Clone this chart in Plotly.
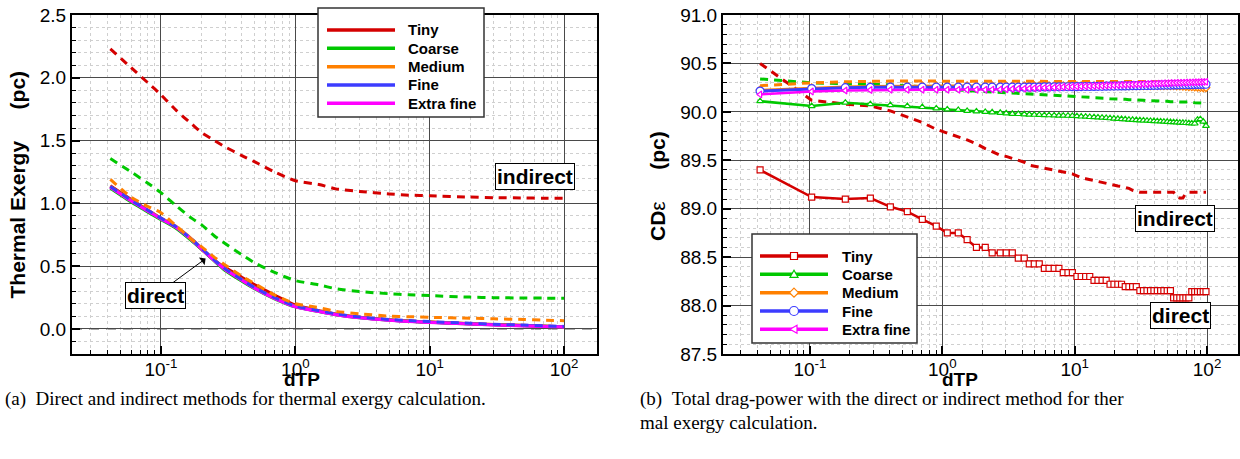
import math
import plotly.graph_objects as go

# ---------------------------------------------------------------- data
# (a) thermal exergy vs dTP
dtp_a = [0.042, 0.06, 0.08, 0.1, 0.13, 0.17, 0.2, 0.25, 0.3, 0.4, 0.5, 0.7,
         1.0, 1.5, 2, 3, 5, 7, 10, 20, 30, 50, 70, 100]

a_tiny_direct = [1.14, 1.03, 0.945, 0.88, 0.81, 0.705, 0.635, 0.545, 0.49, 0.41, 0.35, 0.27,
                 0.19, 0.145, 0.118, 0.092, 0.072, 0.062, 0.054, 0.041, 0.034, 0.027, 0.022, 0.017]
a_coarse_direct = [1.12, 1.01, 0.93, 0.87, 0.80, 0.70, 0.635, 0.54, 0.465, 0.38, 0.318, 0.24,
                   0.175, 0.138, 0.113, 0.088, 0.069, 0.06, 0.052, 0.039, 0.032, 0.025, 0.021, 0.016]
a_medium_direct = [1.135, 1.025, 0.945, 0.883, 0.815, 0.715, 0.645, 0.55, 0.48, 0.395, 0.33, 0.25,
                   0.182, 0.143, 0.117, 0.092, 0.072, 0.063, 0.055, 0.042, 0.035, 0.028, 0.023, 0.018]
a_fine_direct = [1.13, 1.02, 0.94, 0.878, 0.81, 0.71, 0.64, 0.545, 0.475, 0.39, 0.325, 0.245,
                 0.178, 0.14, 0.115, 0.09, 0.07, 0.061, 0.053, 0.04, 0.033, 0.026, 0.022, 0.017]
a_xfine_direct = [1.128, 1.018, 0.938, 0.876, 0.808, 0.708, 0.638, 0.543, 0.473, 0.388, 0.323, 0.243,
                  0.176, 0.138, 0.113, 0.088, 0.068, 0.059, 0.051, 0.038, 0.031, 0.024, 0.02, 0.015]

a_tiny_indirect = [2.23, 2.08, 1.96, 1.865, 1.74, 1.63, 1.565, 1.50, 1.45, 1.38, 1.33, 1.25,
                   1.18, 1.15, 1.115, 1.095, 1.075, 1.065, 1.06, 1.05, 1.045, 1.043, 1.04, 1.04]
a_coarse_indirect = [1.357, 1.25, 1.16, 1.085, 0.98, 0.88, 0.83, 0.74, 0.68, 0.59, 0.525, 0.45,
                     0.385, 0.35, 0.32, 0.297, 0.28, 0.272, 0.265, 0.253, 0.249, 0.246, 0.245, 0.244]
a_medium_indirect = [1.19, 1.05, 0.975, 0.925, 0.82, 0.71, 0.655, 0.57, 0.51, 0.42, 0.36, 0.27,
                     0.2, 0.17, 0.14, 0.12, 0.102, 0.097, 0.092, 0.085, 0.08, 0.075, 0.07, 0.065]
a_fine_indirect = [1.135, 1.025, 0.945, 0.882, 0.812, 0.712, 0.642, 0.548, 0.478, 0.393, 0.328, 0.248,
                   0.182, 0.145, 0.12, 0.095, 0.075, 0.066, 0.058, 0.045, 0.037, 0.03, 0.025, 0.02]
a_xfine_indirect = [1.13, 1.02, 0.94, 0.878, 0.81, 0.71, 0.64, 0.545, 0.475, 0.39, 0.325, 0.245,
                    0.178, 0.14, 0.115, 0.09, 0.07, 0.061, 0.053, 0.04, 0.033, 0.026, 0.022, 0.017]

# (b) total drag-power CD_eps vs dTP
dtp_b = [0.042, 0.103, 0.185, 0.286, 0.405, 0.544, 0.706, 0.90, 1.09, 1.32, 1.54, 1.81,
         2.11, 2.38, 2.74, 3.04, 3.38, 3.75, 4.16, 4.54, 4.95, 5.4, 5.9, 6.4, 7.0, 7.6,
         8.2, 8.9, 9.6, 10.4, 11.2, 12.1, 13.0, 14.0, 15.0, 16.1, 17.3, 18.5, 19.8, 21.2,
         22.6, 24.1, 25.7, 27.4, 29.2, 31.1, 33.1, 35.2, 37.4, 39.7, 42.1, 44.6, 47.2, 50.0,
         52.9, 55.9, 59.0, 62.3, 65.7, 69.2, 72.9, 76.7, 80.7, 84.8, 89.1, 93.6, 98.2]

b_tiny_direct = [89.40, 89.12, 89.10, 89.11, 89.02, 88.97, 88.89, 88.82,
                 88.75, 88.75, 88.68, 88.60, 88.60,
                 88.545, 88.545, 88.545, 88.545, 88.49, 88.49,
                 88.43, 88.43, 88.43, 88.385, 88.385, 88.385, 88.385,
                 88.34, 88.34, 88.34, 88.30, 88.30, 88.30, 88.30,
                 88.26, 88.26, 88.26, 88.26, 88.22, 88.22, 88.22, 88.22,
                 88.195, 88.195, 88.195, 88.195,
                 88.155, 88.155, 88.155, 88.155, 88.155, 88.155, 88.155, 88.155, 88.155, 88.155,
                 88.08, 88.08, 88.08, 88.08, 88.08, 88.08,
                 88.145, 88.145, 88.145, 88.145, 88.145, 88.145]
b_coarse_direct = [90.11, 90.06, 90.095, 90.08, 90.07, 90.06, 90.05, 90.035, 90.025, 90.02,
                   90.01, 90.005, 90.00, 89.995, 89.99, 89.985, 89.98, 89.978, 89.975, 89.972,
                   89.97, 89.968, 89.966, 89.965, 89.963, 89.962, 89.961, 89.96, 89.958, 89.955,
                   89.952, 89.95, 89.947, 89.945, 89.942, 89.94, 89.937, 89.934, 89.931, 89.928,
                   89.926, 89.923, 89.92, 89.918, 89.915, 89.913, 89.911, 89.909, 89.907, 89.905,
                   89.903, 89.901, 89.899, 89.897, 89.895, 89.893, 89.891, 89.889, 89.887, 89.885,
                   89.883, 89.881, 89.88, 89.92, 89.925, 89.90, 89.855]
b_medium_direct = [90.225, 90.25, 90.26, 90.265, 90.268] + [90.27] * 51 + \
                  [90.268, 90.266, 90.264, 90.262, 90.26, 90.258, 90.256, 90.254, 90.252, 90.25, 90.25]
b_fine_direct = [90.215, 90.24, 90.25, 90.253] + [90.255] * 17 + \
                [90.256, 90.257, 90.257, 90.258, 90.258, 90.259, 90.259, 90.26, 90.26,
                 90.261, 90.262, 90.262, 90.263, 90.264, 90.264, 90.265, 90.266, 90.266, 90.267,
                 90.268, 90.268, 90.269, 90.27, 90.27, 90.271, 90.272, 90.272, 90.273, 90.274,
                 90.274, 90.275, 90.276, 90.276, 90.277, 90.278, 90.278, 90.279, 90.28, 90.28,
                 90.281, 90.282, 90.282, 90.283, 90.284, 90.284, 90.285]
b_xfine_direct = [90.18, 90.21, 90.22, 90.225] + [90.228] * 9 + \
                 [90.23, 90.232, 90.234, 90.236, 90.238, 90.24, 90.242, 90.244, 90.246, 90.248,
                  90.25, 90.252, 90.254, 90.256, 90.258, 90.26,
                  90.261, 90.263, 90.264, 90.266, 90.267, 90.269, 90.27, 90.272, 90.273, 90.275,
                  90.276, 90.278, 90.279, 90.281, 90.282, 90.284, 90.285, 90.287, 90.288, 90.29,
                  90.291, 90.292, 90.294, 90.295, 90.296, 90.298, 90.299, 90.3, 90.301, 90.302,
                  90.303, 90.304, 90.305, 90.306, 90.307, 90.308, 90.309, 90.31]

b_tiny_indirect = [90.50, 90.12, 90.08, 90.06, 90.01, 89.95, 89.89, 89.82, 89.78, 89.745,
                   89.71, 89.67, 89.62, 89.59, 89.55, 89.54, 89.52, 89.50, 89.48, 89.45,
                   89.44, 89.43, 89.42, 89.41, 89.40, 89.39, 89.38, 89.37, 89.36, 89.34,
                   89.32, 89.31, 89.30, 89.29, 89.28, 89.27, 89.26, 89.25, 89.24, 89.235,
                   89.23, 89.22, 89.21, 89.19, 89.18] + [89.17] * 11 + \
                  [89.12, 89.11, 89.11, 89.16] + [89.17] * 7
b_coarse_indirect = [90.34, 90.30, 90.29, 90.285, 90.28, 90.27, 90.26, 90.24, 90.23, 90.225,
                     90.22, 90.215, 90.21, 90.205, 90.20, 90.20, 90.195, 90.19, 90.19, 90.185,
                     90.18, 90.18, 90.175, 90.17, 90.17, 90.165, 90.165, 90.16, 90.16, 90.155,
                     90.155, 90.15, 90.15, 90.145, 90.145, 90.14, 90.14, 90.135, 90.135, 90.13,
                     90.13, 90.13, 90.125, 90.125, 90.12, 90.12, 90.12, 90.115, 90.115, 90.115,
                     90.11, 90.11, 90.11, 90.11, 90.105, 90.105, 90.105, 90.10, 90.10, 90.10,
                     90.10, 90.10, 90.095, 90.095, 90.095, 90.09, 90.08]
b_medium_indirect = [90.27, 90.30, 90.31] + [90.318] * 58 + [90.315, 90.314, 90.313, 90.312, 90.311, 90.31]

grids = ["Tiny", "Coarse", "Medium", "Fine", "Extra fine"]
grid_colors = ["#d40000", "#00c800", "#ff8000", "#3c3cff", "#ff00ff"]
grid_symbols = ["square", "triangle-up", "diamond", "circle", "triangle-left"]
grid_msize = [6, 6, 6, 8, 6]

decade_ticks = [0.1, 1, 10, 100]
decade_labels = ["10<sup>-1</sup>", "10<sup>0</sup>", "10<sup>1</sup>", "10<sup>2</sup>"]

FONT = "Liberation Sans, Arial, Helvetica, sans-serif"
SERIF = "Liberation Serif, Times New Roman, serif"
DASH = "8px,6px"
W, H = 1240, 459


def px(x):
    return x / W


def py(y):
    return 1 - y / H


# ---------------------------------------------------------------- traces
fig = go.Figure()

a_direct = [a_tiny_direct, a_coarse_direct, a_medium_direct, a_fine_direct, a_xfine_direct]
a_indirect = [a_tiny_indirect, a_coarse_indirect, a_medium_indirect, a_fine_indirect, a_xfine_indirect]

for name, col, ys in zip(grids, grid_colors, a_direct):
    fig.add_trace(go.Scatter(x=dtp_a, y=ys, mode="lines", name=name,
                             line=dict(color=col, width=3, shape="spline", smoothing=0.6),
                             xaxis="x", yaxis="y"))
for name, col, ys in reversed(list(zip(grids, grid_colors, a_indirect))):
    fig.add_trace(go.Scatter(x=dtp_a, y=ys, mode="lines", name=name + " (indirect)",
                             line=dict(color=col, width=3, dash=DASH, shape="spline", smoothing=0.6),
                             xaxis="x", yaxis="y"))

b_indirect = [b_tiny_indirect, b_coarse_indirect, b_medium_indirect]
for name, col, ys in zip(grids, grid_colors, b_indirect):
    fig.add_trace(go.Scatter(x=dtp_b, y=ys, mode="lines", name=name + " (indirect)",
                             line=dict(color=col, width=3, dash=DASH),
                             xaxis="x2", yaxis="y2"))

b_direct = [b_tiny_direct, b_coarse_direct, b_medium_direct, b_fine_direct, b_xfine_direct]
for name, col, sym, ms, ys in zip(grids, grid_colors, grid_symbols, grid_msize, b_direct):
    fig.add_trace(go.Scatter(x=dtp_b, y=ys, mode="lines+markers", name=name,
                             line=dict(color=col, width=3 if name == "Fine" else 2.5),
                             marker=dict(symbol=sym, size=ms, color="white",
                                         line=dict(color=col, width=1.2)),
                             xaxis="x2", yaxis="y2"))


# ---------------------------------------------------------------- axes
def log_axis(domain, rng, anchor):
    minor_vals = [m * 10 ** k for k in range(-2, 3) for m in range(2, 10)]
    return dict(type="log", domain=domain, range=rng, anchor=anchor,
                tickmode="array", tickvals=decade_ticks, ticktext=decade_labels,
                ticks="inside", ticklen=8, tickwidth=1.5, tickcolor="black",
                showline=True, linewidth=2, linecolor="black", mirror=True,
                showgrid=True, gridcolor="#4a4a4a", gridwidth=1.2, zeroline=False,
                tickfont=dict(family=FONT, size=19, color="black"),
                minor=dict(tickmode="array", tickvals=minor_vals, ticks="inside",
                           ticklen=4, tickwidth=1, tickcolor="black",
                           showgrid=True, gridcolor="#cfcfcf", griddash="dot", gridwidth=1))


def lin_axis(domain, rng, tick0, anchor):
    return dict(domain=domain, range=rng, anchor=anchor,
                tick0=tick0, dtick=0.5, tickformat=".1f",
                ticks="inside", ticklen=8, tickwidth=1.5, tickcolor="black",
                showline=True, linewidth=2, linecolor="black", mirror=True,
                showgrid=True, gridcolor="#4a4a4a", gridwidth=1.2, zeroline=False,
                tickfont=dict(family=FONT, size=19, color="black"),
                minor=dict(dtick=0.1, tick0=tick0, ticks="inside", ticklen=4, tickwidth=1,
                           tickcolor="black", showgrid=True, gridcolor="#cfcfcf",
                           griddash="dot", gridwidth=1))


ydom = [py(354), py(15)]

fig.update_layout(
    width=W, height=H, margin=dict(l=0, r=0, t=0, b=0, autoexpand=False),
    paper_bgcolor="white", plot_bgcolor="white", showlegend=False,
    xaxis=log_axis([px(72), px(597)], [-1.662, 2.245], "y"),
    yaxis=lin_axis(ydom, [-0.2, 2.5], 0, "x"),
    xaxis2=log_axis([px(723), px(1238)], [-1.657, 2.234], "y2"),
    yaxis2=lin_axis(ydom, [87.5, 91.0], 87.5, "x2"),
)

# pull the decade labels slightly closer to the axis line
try:
    fig.update_xaxes(ticklabelstandoff=-3)
except ValueError:
    pass

# zero reference line in (a)
fig.add_shape(type="line", xref="x domain", yref="y", x0=0, x1=1, y0=0, y1=0,
              line=dict(color="#8c8c8c", width=1.5, dash="10px,7px"), layer="below")

# ---------------------------------------------------------------- legends
legend_font = dict(family=FONT, size=15, color="black", weight="bold")


def marker_shape(symbol, cx, cy, color):
    common = dict(xref="paper", yref="paper", xsizemode="pixel", ysizemode="pixel",
                  xanchor=cx, yanchor=cy, fillcolor="white",
                  line=dict(color=color, width=1.2), layer="above")
    if symbol == "square":
        return dict(type="rect", x0=-3.5, x1=3.5, y0=-3.5, y1=3.5, **common)
    if symbol == "circle":
        return dict(type="circle", x0=-4.5, x1=4.5, y0=-4.5, y1=4.5, **common)
    paths = {
        "triangle-up": "M-4,-3L4,-3L0,4Z",
        "diamond": "M0,4.5L4.5,0L0,-4.5L-4.5,0Z",
        "triangle-left": "M-4,0L3,4L3,-4Z",
    }
    return dict(type="path", path=paths[symbol], **common)


def draw_legend(box, rows, line_x, text_x, marker_x=None):
    fig.add_shape(type="rect", xref="paper", yref="paper",
                  x0=px(box[0]), x1=px(box[2]), y0=py(box[3]), y1=py(box[1]),
                  fillcolor="white", line=dict(color="#333333", width=1.5), layer="above")
    for i, (name, col) in enumerate(zip(grids, grid_colors)):
        yy = py(rows[i])
        fig.add_shape(type="line", xref="paper", yref="paper",
                      x0=px(line_x[0]), x1=px(line_x[1]), y0=yy, y1=yy,
                      line=dict(color=col, width=3.5), layer="above")
        if marker_x is not None:
            fig.add_shape(**marker_shape(grid_symbols[i], px(marker_x), yy, col))
        fig.add_annotation(x=px(text_x), y=yy, xref="paper", yref="paper",
                           xanchor="left", yanchor="middle", text=name,
                           showarrow=False, font=legend_font)


draw_legend((318, 8, 484, 117), [30, 48.3, 66.7, 85, 103.3], (327, 395), 406)
draw_legend((752, 234, 917, 343), [256, 274.3, 292.7, 311, 329.3], (760, 828), 840,
            marker_x=794)

# ---------------------------------------------------------------- labels
box_style = dict(bgcolor="white", bordercolor="black", borderwidth=1, borderpad=1,
                 xanchor="center", yanchor="middle",
                 font=dict(family=FONT, size=21, color="black", weight="bold"))

fig.add_annotation(x=math.log10(60.8), y=1.21, xref="x", yref="y", text="indirect",
                   showarrow=False, **box_style)
fig.add_annotation(x=math.log10(0.215), y=0.56, xref="x", yref="y", text="direct",
                   ax=math.log10(0.091), ay=0.266, axref="x", ayref="y",
                   showarrow=True, arrowhead=1, arrowsize=1.6, arrowwidth=1,
                   arrowcolor="black", **box_style)
fig.add_annotation(x=math.log10(57.3), y=88.90, xref="x2", yref="y2", text="indirect",
                   showarrow=False, **box_style)
fig.add_annotation(x=math.log10(63), y=87.897, xref="x2", yref="y2", text="direct",
                   showarrow=False, **box_style)

title_font = dict(family=FONT, size=21, color="black")
xtitle_font = dict(family=FONT, size=19, color="black")
centered = dict(xref="paper", yref="paper", xanchor="center", yanchor="middle", showarrow=False)
fig.add_annotation(x=px(17), y=py(184.5), textangle=-90,
                   text="<b>Thermal Exergy\u2002\u2002\u2002(pc)</b>", font=title_font, **centered)
fig.add_annotation(x=px(657), y=py(186), textangle=-90,
                   text="<b>CD</b>ε\u2002\u2002\u2002<b>(pc)</b>", font=title_font, **centered)
fig.add_annotation(x=px(302), y=py(379), text="<b>dTP</b>", font=xtitle_font, **centered)
fig.add_annotation(x=px(960), y=py(379), text="<b>dTP</b>", font=xtitle_font, **centered)

cap_font = dict(family=SERIF, size=19, color="black")
caption = dict(xref="paper", yref="paper", xanchor="left", yanchor="middle", showarrow=False,
               font=cap_font)
fig.add_annotation(x=px(3), y=py(399),
                   text="(a)\u2002Direct and indirect methods for thermal exergy calculation.",
                   **caption)
fig.add_annotation(x=px(638), y=py(399),
                   text="(b)\u2002Total drag-power with the direct or indirect method for ther",
                   **caption)
fig.add_annotation(x=px(638), y=py(422), text="mal exergy calculation.", **caption)

fig.write_html("out.html")
